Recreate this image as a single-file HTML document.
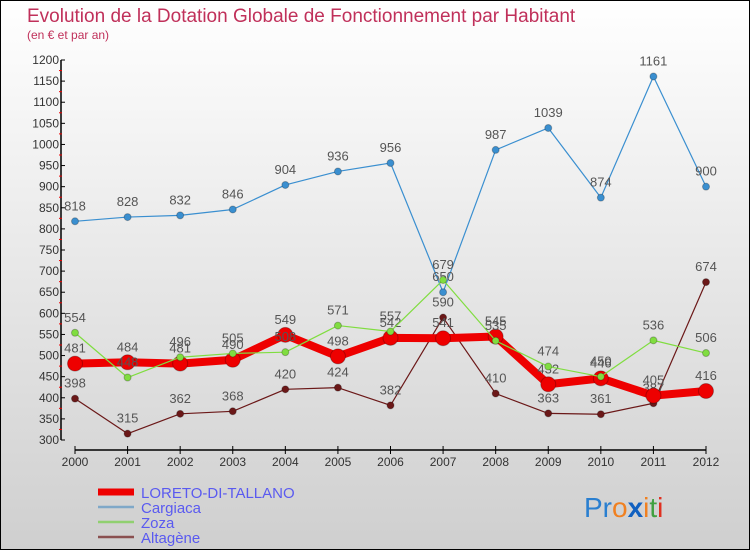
<!DOCTYPE html>
<html><head><meta charset="utf-8"><style>
body{margin:0;width:750px;height:550px;overflow:hidden;font-family:"Liberation Sans",sans-serif}
svg text{font-family:"Liberation Sans",sans-serif}
</style></head><body>
<svg id="chart" width="750" height="550" xmlns="http://www.w3.org/2000/svg">
<defs><linearGradient id="bg" x1="0" y1="0" x2="0" y2="1"><stop offset="0" stop-color="#ffffff"/><stop offset="1" stop-color="#cfcfcf"/></linearGradient></defs>
<rect x="0.5" y="0.5" width="749" height="549" fill="url(#bg)" stroke="#000"/>
<text x="27" y="22" font-size="19" fill="#c0305a">Evolution de la Dotation Globale de Fonctionnement par Habitant</text>
<text x="27" y="39" font-size="12" fill="#c0305a">(en € et par an)</text>
<g id="axes"></g><g id="series"></g><g id="legend"></g>
<text x="584" y="517" font-size="28"><tspan fill="#2a7fd0">Pr</tspan><tspan fill="#f08020">o</tspan><tspan fill="#1060c0" font-weight="bold">x</tspan><tspan fill="#f08020">i</tspan><tspan fill="#40a040">t</tspan><tspan fill="#e03020">i</tspan></text>
</svg>
<script>
const years=[2000,2001,2002,2003,2004,2005,2006,2007,2008,2009,2010,2011,2012];
const yTicks=[300,350,400,450,500,550,600,650,700,750,800,850,900,950,1000,1050,1100,1150,1200];
const loreto=[481,484,481,490,549,498,542,541,545,432,446,405,416];
const cargiaca=[818,828,832,846,904,936,956,650,987,1039,874,1161,900];
const zoza=[554,448,496,505,508,571,557,679,535,474,450,536,506];
const altagene=[398,315,362,368,420,424,382,590,410,363,361,387,674];
const seriesNames=["LORETO-DI-TALLANO","Cargiaca","Zoza","Altagène"];
const NS="http://www.w3.org/2000/svg";
function X(i){return 75+i*(706-75)/12;}
function Y(v){return 440-(v-300)*380/900;}
function mk(t,a,p){const e=document.createElementNS(NS,t);for(const k in a)e.setAttribute(k,a[k]);p.appendChild(e);return e;}
const ax=document.getElementById('axes');
const yl=mk('line',{x1:61,y1:Y(1200),x2:61,y2:Y(300),stroke:'#000','stroke-width':1.5},ax);


yTicks.forEach((v,i)=>{
 mk('line',{x1:61,y1:Y(v),x2:65,y2:Y(v),stroke:'#000'},ax);
 if(i<yTicks.length-1)mk('line',{x1:59,y1:Y(v+25),x2:62,y2:Y(v+25),stroke:'#e00'},ax);
 const t=mk('text',{x:59,y:Y(v)+4,'font-size':12,'text-anchor':'end',fill:'#333'},ax);t.textContent=v;
 
 
});
const xl=mk('line',{x1:75,y1:450,x2:706,y2:450,stroke:'#000','stroke-width':1.5},ax);


years.forEach((y,i)=>{
 mk('line',{x1:X(i),y1:446,x2:X(i),y2:454,stroke:'#000'},ax);
 const t=mk('text',{x:X(i),y:466,'font-size':12,'text-anchor':'middle',fill:'#333'},ax);t.textContent=y;
 
 
});
const sg=document.getElementById('series');
function draw(data,color,w,r,name){
 const g=mk('g',{},sg);
 
 
 mk('polyline',{points:data.map((v,i)=>X(i)+','+Y(v)).join(' '),fill:'none',stroke:color,'stroke-width':w,'stroke-linejoin':'round'},g);
 data.forEach((v,i)=>{
  const c=mk('circle',{cx:X(i),cy:Y(v),r:r,fill:color,stroke:'rgba(0,0,0,0.25)'},g);
  
  
  const t=mk('text',{x:X(i),y:Y(v)-11,'font-size':13,'text-anchor':'middle',fill:'#555'},g);t.textContent=v;
  
  
 });
}
draw(cargiaca,'#3a8fd0',1.2,3.5,'cargiaca');
draw(altagene,'#6b1818',1.2,3.5,'altagene');
draw(loreto,'#ee0000',8,7.5,'loreto');
draw(zoza,'#80dd40',1.2,3.5,'zoza');
const lg=document.getElementById('legend');
const lcol=['#ee0000','#7fa8c8','#90d070','#8a5050'];const lw=[7,2.5,2.5,2.5];
seriesNames.forEach((n,i)=>{
 const y=492+i*15;
 const l=mk('line',{x1:98,y1:y,x2:134,y2:y,stroke:lcol[i],'stroke-width':lw[i]},lg);
 
 
 const t=mk('text',{x:141,y:y+6,'font-size':15,fill:'#5a5af0'},lg);t.textContent=n;
 
 
});
</script>
</body></html>
